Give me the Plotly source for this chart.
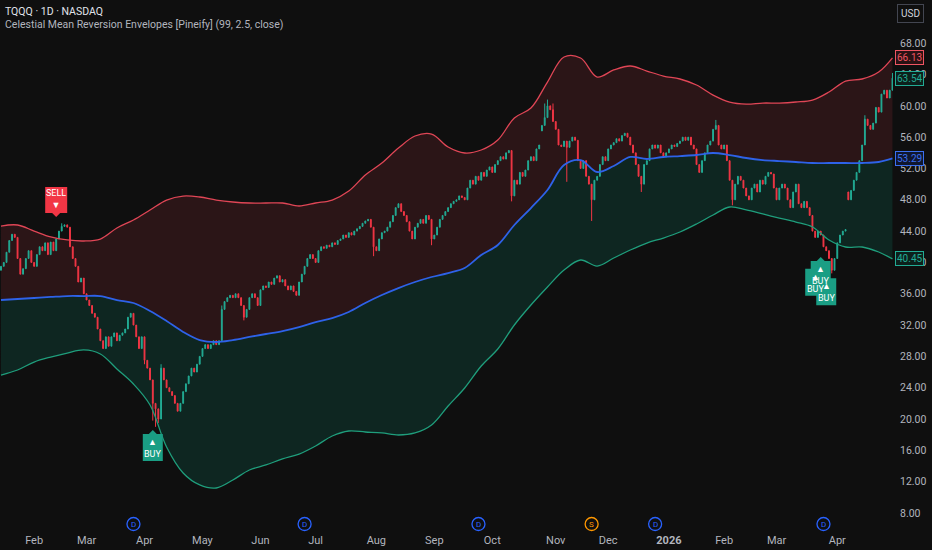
import pandas as pd
import plotly.graph_objects as go

# ---------------- data ----------------
holidays = ["2025-01-20", "2025-02-17", "2025-04-18", "2025-05-26", "2025-06-19",
            "2025-07-04", "2025-09-01", "2025-11-27", "2025-12-25", "2026-01-01",
            "2026-01-19", "2026-02-16", "2026-04-03"]
dates = [d.strftime("%Y-%m-%d") for d in pd.bdate_range("2025-01-15", "2026-04-30")
         if d.strftime("%Y-%m-%d") not in holidays]

closes = [
    39.5, 40.0, 41.3, 42.8, 43.6, 43.2, 40.5, 38.5, 39.2, 40.5, 41.5, 40.0,
    39.5, 41.0, 42.0, 41.5, 42.5, 41.0, 42.6, 41.5, 43.0, 44.0, 44.6, 44.8,
    44.5, 42.0, 40.5, 39.5, 37.5, 38.0, 36.0, 35.2, 34.5, 33.5, 33.0, 31.5,
    30.0, 29.0, 30.5, 29.3, 30.5, 31.0, 30.0, 30.7, 31.0, 31.5, 33.0, 33.5,
    32.0, 30.5, 29.0, 30.5, 27.5, 26.5, 25.0, 22.0, 21.3, 20.0, 26.5, 25.0,
    24.0, 23.5, 23.0, 22.0, 21.0, 22.0, 23.5, 24.5, 25.5, 26.5, 26.0, 27.0,
    28.0, 29.0, 29.5, 29.0, 29.5, 30.0, 29.5, 30.0, 34.0, 35.0, 35.5, 35.8,
    35.5, 36.0, 35.5, 34.5, 33.0, 34.0, 35.5, 36.0, 35.5, 34.5, 36.5, 37.0,
    36.8, 37.5, 37.2, 38.0, 38.3, 37.5, 37.8, 37.0, 36.5, 37.0, 36.3, 35.8,
    37.5, 38.5, 39.5, 40.5, 41.0, 40.5, 40.0, 41.5, 42.0, 41.8, 42.2, 42.0,
    42.5, 42.3, 42.8, 43.0, 43.5, 43.2, 43.8, 43.5, 44.0, 44.3, 44.6, 45.0,
    45.3, 45.5, 44.5, 42.0, 41.5, 43.0, 43.8, 44.0, 44.5, 45.2, 46.0, 47.0,
    47.5, 46.5, 46.0, 45.2, 44.0, 43.0, 44.5, 45.0, 45.5, 45.0, 46.0, 45.5,
    43.0, 43.5, 44.5, 45.5, 46.0, 46.5, 47.0, 47.5, 47.8, 48.0, 48.5, 48.3,
    48.0, 49.5, 50.5, 50.0, 51.0, 50.5, 51.5, 51.0, 51.8, 52.2, 51.5, 52.5,
    53.0, 53.5, 53.2, 54.0, 54.3, 48.5, 50.5, 50.0, 51.5, 51.0, 51.8, 53.0,
    53.5, 53.0, 54.5, 55.0, 57.5, 58.5, 60.0, 59.5, 58.0, 57.0, 55.0, 54.8,
    55.5, 54.7, 55.5, 56.0, 55.6, 53.0, 52.0, 53.0, 51.0, 50.0, 48.0, 50.5,
    51.0, 52.5, 53.5, 53.0, 54.5, 55.0, 55.3, 55.8, 55.5, 56.2, 56.5, 56.0,
    55.0, 54.0, 52.5, 51.0, 50.0, 52.5, 53.0, 54.5, 55.0, 54.6, 55.0, 54.0,
    53.5, 54.0, 54.5, 55.0, 54.8, 55.2, 55.5, 56.0, 55.6, 56.0, 55.0, 54.5,
    52.5, 51.5, 53.0, 54.0, 55.0, 55.5, 57.0, 57.5, 55.0, 54.5, 55.0, 53.0,
    50.5, 48.0, 50.0, 51.0, 50.5, 49.5, 48.5, 48.0, 49.5, 50.0, 49.0, 50.5,
    50.0, 51.0, 51.5, 51.3, 49.5, 48.0, 49.5, 50.0, 49.5, 48.0, 47.0, 49.0,
    50.0, 47.5, 47.0, 47.8, 47.0, 46.0, 44.0, 43.2, 44.0, 43.5, 42.0, 41.5,
    40.5, 39.0, 40.5, 42.5, 43.5, 44.0, 44.2, 48.0, 49.2, 50.5, 51.5, 53.0,
    55.0, 58.3, 57.5, 57.0, 57.8, 59.8, 59.2, 61.5, 62.0, 61.0, 62.0, 63.54,
]
first_open = 39.0
gap_opens = {196: 56.8, 307: 49.0}
wick_high = {22: 45.0, 58: 27.0, 80: 34.5, 197: 60.3, 198: 60.8, 200: 60.3,
             259: 58.2, 313: 58.8, 323: 64.2}
wick_low = {52: 27.0, 55: 19.8, 56: 19.0, 57: 19.5, 88: 32.6, 135: 40.8, 156: 42.2,
            185: 47.8, 205: 50.3, 214: 45.3, 232: 49.0, 265: 47.3, 301: 38.6}

# envelope values (every 6th bar + last bar)
band_idx = list(range(0, 324, 6)) + [323]
upper = [44.65, 44.78, 44.01, 43.25, 42.87, 42.74, 42.99, 44.40, 45.42, 46.70,
         47.97, 48.48, 48.36, 47.97, 47.72, 47.59, 47.59, 47.59, 47.21, 47.59,
         47.97, 49.12, 51.17, 52.70, 54.61, 56.15, 56.40, 54.74, 53.98, 54.36,
         55.64, 58.45, 59.72, 63.04, 66.24, 66.11, 63.68, 64.58, 65.09, 64.45,
         63.81, 63.43, 62.66, 61.38, 60.49, 60.23, 60.36, 60.36, 60.49, 60.74,
         61.77, 63.17, 63.43, 64.32, 66.13]
mid = [35.20, 35.33, 35.46, 35.59, 35.71, 35.71, 35.71, 35.20, 34.82, 33.80,
       32.52, 31.12, 30.09, 29.84, 30.09, 30.48, 30.86, 31.24, 31.75, 32.39,
       32.90, 33.67, 34.82, 35.84, 36.73, 37.50, 38.14, 38.65, 39.29, 40.95,
       42.23, 44.78, 46.95, 49.25, 52.44, 53.08, 51.55, 52.32, 53.47, 53.21,
       53.47, 53.59, 53.72, 53.98, 53.72, 53.34, 53.08, 52.95, 52.83, 52.70,
       52.70, 52.70, 52.70, 52.83, 53.29]
lower = [25.62, 26.26, 27.28, 27.92, 28.43, 28.82, 28.31, 26.39, 24.47, 21.79,
         16.43, 13.11, 11.58, 11.19, 12.21, 13.49, 14.13, 14.90, 15.53, 16.56,
         17.83, 18.47, 18.34, 18.22, 17.96, 18.22, 19.24, 21.66, 23.96, 26.77,
         28.94, 32.01, 34.56, 36.86, 39.03, 40.31, 39.54, 40.57, 41.59, 42.48,
         43.12, 43.89, 44.91, 46.06, 47.08, 46.70, 46.19, 45.67, 45.16, 44.53,
         42.87, 41.97, 41.97, 41.33, 40.45]

sell_signals = [(20, 45.8)]
buy_signals = [(55, 18.6), (297, 40.7), (295, 39.7), (299, 38.5)]
event_idx = [48, 110, 173, 214, 237, 298]
event_kind = ["D", "D", "D", "S", "D", "D"]
price_ticks = list(range(8, 69, 4))

# ---------------- build OHLC ----------------
opens = [first_open] + closes[:-1]
for k, v in gap_opens.items():
    opens[k] = v
highs = [max(o, c) for o, c in zip(opens, closes)]
lows = [min(o, c) for o, c in zip(opens, closes)]
for k, v in wick_high.items():
    highs[k] = v
for k, v in wick_low.items():
    lows[k] = v

# month ticks
tick_vals, tick_text = [], []
for i in range(1, len(dates)):
    if dates[i][5:7] != dates[i - 1][5:7]:
        tick_vals.append(dates[i])
        m = pd.Timestamp(dates[i])
        tick_text.append("<b>%d</b>" % m.year if m.month == 1 else m.strftime("%b"))

# ---------------- style ----------------
BG = "#0f0f0f"
UP = "#22ab94"
DN = "#f23645"
RED_LINE = "#e04656"
BLUE = "#2e62e8"
GREEN_LINE = "#1f9e7c"
RED_FILL = "#2b1517"
GREEN_FILL = "#0e2621"
TXT = "#b2b5be"
FONT = "Roboto, 'Noto Sans', sans-serif"
YR = [5.57, 73.52]

bx = [dates[i] for i in band_idx]
fig = go.Figure()
common = dict(mode="lines", hoverinfo="skip", showlegend=False)
# fills (bottom layer, axis y)
fig.add_trace(go.Scatter(x=bx, y=mid, line=dict(width=0, shape="spline"), **common))
fig.add_trace(go.Scatter(x=bx, y=upper, line=dict(width=0, shape="spline"),
                         fill="tonexty", fillcolor=RED_FILL, **common))
fig.add_trace(go.Scatter(x=bx, y=mid, line=dict(width=0, shape="spline"), **common))
fig.add_trace(go.Scatter(x=bx, y=lower, line=dict(width=0, shape="spline"),
                         fill="tonexty", fillcolor=GREEN_FILL, **common))

# candles (middle layer, axis y2)
fig.add_trace(go.Candlestick(
    x=dates, open=opens, high=highs, low=lows, close=closes, yaxis="y2",
    increasing=dict(line=dict(color=UP, width=1), fillcolor=UP),
    decreasing=dict(line=dict(color=DN, width=1), fillcolor=DN),
    whiskerwidth=0, showlegend=False, hoverinfo="skip"))

# envelope lines (top layer, axis y3)
fig.add_trace(go.Scatter(x=bx, y=upper, yaxis="y3",
                         line=dict(width=1.3, color=RED_LINE, shape="spline"), **common))
fig.add_trace(go.Scatter(x=bx, y=lower, yaxis="y3",
                         line=dict(width=1.3, color=GREEN_LINE, shape="spline"), **common))
fig.add_trace(go.Scatter(x=bx, y=mid, yaxis="y3",
                         line=dict(width=1.8, color=BLUE, shape="spline"), **common))

shapes, annotations = [], []

# signal labels
for i, p in sell_signals:
    shapes.append(dict(type="path", xref="x", yref="y", xsizemode="pixel", ysizemode="pixel",
                       xanchor=dates[i], yanchor=p, layer="above",
                       path="M0,0 L4,4 L11,4 L11,30 L-11,30 L-11,4 L-4,4 Z",
                       fillcolor=DN, line=dict(width=0)))
    annotations.append(dict(x=dates[i], y=p, xref="x", yref="y", yanchor="bottom", yshift=5,
                            text="SELL<br>▼", showarrow=False,
                            font=dict(size=9, color="white", family=FONT)))
for i, p in buy_signals:
    shapes.append(dict(type="path", xref="x", yref="y", xsizemode="pixel", ysizemode="pixel",
                       xanchor=dates[i], yanchor=p, layer="above",
                       path="M0,0 L4,-4 L10,-4 L10,-31 L-10,-31 L-10,-4 L-4,-4 Z",
                       fillcolor="#1a9e84", line=dict(width=0)))
for i, p in buy_signals:
    annotations.append(dict(x=dates[i], y=p, xref="x", yref="y", yanchor="top", yshift=-5,
                            text="▲<br>BUY", showarrow=False,
                            font=dict(size=9, color="white", family=FONT)))

# event markers on time axis
for i, k in zip(event_idx, event_kind):
    col = "#2962ff" if k == "D" else "#ff9800"
    shapes.append(dict(type="circle", xref="x", yref="paper", xsizemode="pixel", ysizemode="pixel",
                       xanchor=dates[i], yanchor=0.015, x0=-6.5, x1=6.5, y0=-6.5, y1=6.5,
                       line=dict(color=col, width=1.3), layer="above"))
    annotations.append(dict(x=dates[i], y=0.015, xref="x", yref="paper", text=k, showarrow=False,
                            xanchor="center", yanchor="middle",
                            font=dict(size=8, color=col, family=FONT)))

# legend text
annotations.append(dict(x=0, y=1, xref="paper", yref="paper", xanchor="left", yanchor="top",
                        xshift=3, yshift=-3, text="TQQQ · 1D · NASDAQ", showarrow=False,
                        font=dict(size=10.5, color="#e0e3eb", family=FONT)))
annotations.append(dict(x=0, y=1, xref="paper", yref="paper", xanchor="left", yanchor="top",
                        xshift=3, yshift=-16,
                        text="Celestial Mean Reversion Envelopes [Pineify] (99, 2.5, close)",
                        showarrow=False, font=dict(size=10.5, color="#b2b5be", family=FONT)))
# currency box
annotations.append(dict(x=1, y=1, xref="paper", yref="paper", xanchor="left", yanchor="top",
                        xshift=4, yshift=-4, text="USD", showarrow=False,
                        bordercolor="#434651", borderwidth=1, borderpad=3,
                        font=dict(size=10, color="#d1d4dc", family=FONT)))
# last-value labels
for v, col, bg in [(upper[-1], "#f05563", "#2a1214"), (closes[-1], UP, "#0d201c"),
                   (mid[-1], "#3b6ff0", "#10172e"), (lower[-1], UP, "#0d201c")]:
    annotations.append(dict(x=1, y=v, xref="paper", yref="y", xanchor="left", yanchor="middle",
                            xshift=2, text="%.2f" % v, showarrow=False,
                            bgcolor=bg, bordercolor=col, borderwidth=1, borderpad=1,
                            font=dict(size=10, color=col, family=FONT)))

hidden = dict(overlaying="y", range=YR, visible=False, showgrid=False, zeroline=False)
fig.update_layout(
    width=932, height=550, margin=dict(l=0, r=39, t=0, b=18),
    paper_bgcolor=BG, plot_bgcolor=BG, showlegend=False, boxgap=0.55,
    shapes=shapes, annotations=annotations,
    xaxis=dict(type="category", categoryorder="array", categoryarray=dates,
               range=[-0.36, 323.19], rangeslider=dict(visible=False),
               tickvals=tick_vals, ticktext=tick_text, showgrid=False, zeroline=False,
               showline=False, ticks="", tickangle=0,
               tickfont=dict(size=11, color=TXT, family=FONT)),
    yaxis=dict(side="right", range=YR, tickvals=price_ticks,
               ticktext=["%.2f" % v for v in price_ticks], showgrid=False, zeroline=False,
               showline=False, ticks="", ticklabelstandoff=6,
               tickfont=dict(size=10.5, color=TXT, family=FONT)),
    yaxis2=dict(side="right", **hidden),
    yaxis3=dict(side="right", **hidden),
)

fig.write_html("out.html", config={"displayModeBar": False},
               post_script="document.body.style.margin='0';document.body.style.background='#0f0f0f';")
